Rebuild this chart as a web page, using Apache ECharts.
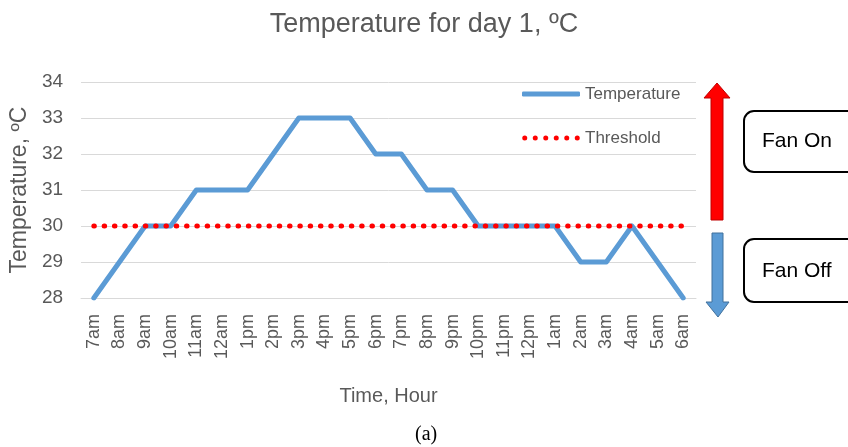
<!DOCTYPE html>
<html>
<head>
<meta charset="utf-8">
<script src="https://cdn.jsdelivr.net/npm/echarts@6/dist/echarts.min.js"></script>
<style>
  html, body { margin: 0; padding: 0; background: #fff; }
  #chart { width: 848px; height: 447px; }
</style>
</head>
<body>
<div id="chart"></div>
<script>
const hours = ['7am', '8am', '9am', '10am', '11am', '12am', '1pm', '2pm', '3pm', '4pm', '5pm', '6pm',
  '7pm', '8pm', '9pm', '10pm', '11pm', '12pm', '1am', '2am', '3am', '4am', '5am', '6am']
const temperature = [28, 29, 30, 30, 31, 31, 31, 32, 33, 33, 33, 32, 32, 31, 31, 30, 30, 30, 30, 29, 29, 30, 29, 28]
const threshold = [30, 30, 30, 30, 30, 30, 30, 30, 30, 30, 30, 30, 30, 30, 30, 30, 30, 30, 30, 30, 30, 30, 30, 30]
const yTicks = [28, 29, 30, 31, 32, 33, 34]

const font = 'Liberation Sans'
const grey = '#595959'

// six round dots for the threshold legend icon
let dotsPath = 'path://'
for (let i = 0; i < 6; i++) {
  const x = i * 10.5
  dotsPath += 'M' + x + ' 2.5a2.5 2.5 0 1 0 5 0a2.5 2.5 0 1 0 -5 0Z'
}

const chart = echarts.init(document.getElementById('chart'))
chart.setOption({
  animation: false,
  title: [
    {
      text: 'Temperature for day 1, ºC',
      left: 'center',
      top: 6,
      textStyle: { fontFamily: font, fontSize: 27, fontWeight: 'normal', color: grey }
    },
    {
      text: '(a)',
      left: 410,
      top: 420,
      textStyle: { fontFamily: 'Liberation Serif', fontSize: 20, fontWeight: 'normal', color: '#000' }
    }
  ],
  legend: {
    orient: 'vertical',
    left: 517,
    top: 80,
    itemWidth: 58,
    itemHeight: 5,
    itemGap: 26,
    textStyle: { fontFamily: font, fontSize: 17, lineHeight: 18, color: grey },
    data: [
      { name: 'Temperature', icon: 'roundRect' },
      { name: 'Threshold', icon: dotsPath }
    ]
  },
  grid: { left: 78, right: 152, top: 82, bottom: 149 },
  xAxis: {
    type: 'category',
    data: hours,
    boundaryGap: true,
    name: 'Time, Hour',
    nameLocation: 'middle',
    nameGap: 88,
    nameTextStyle: { fontFamily: font, fontSize: 20, color: grey },
    axisLine: { lineStyle: { color: '#D9D9D9', width: 1 } },
    axisTick: { show: false },
    axisLabel: { rotate: 90, margin: 16, interval: 0, fontFamily: font, fontSize: 18, color: grey }
  },
  yAxis: {
    type: 'value',
    min: yTicks[0],
    max: yTicks[yTicks.length - 1],
    interval: 1,
    name: 'Temperature, ºC',
    nameLocation: 'middle',
    nameGap: 43,
    nameTextStyle: { fontFamily: font, fontSize: 23, color: grey },
    axisLine: { show: false },
    axisTick: { show: false },
    splitLine: { lineStyle: { color: '#D9D9D9', width: 1 } },
    axisLabel: { margin: 18, fontFamily: font, fontSize: 19, color: grey }
  },
  series: [
    {
      name: 'Temperature',
      type: 'line',
      data: temperature,
      symbol: 'none',
      z: 2,
      lineStyle: { color: '#5B9BD5', width: 5, cap: 'round', join: 'round' },
      itemStyle: { color: '#5B9BD5' }
    },
    {
      name: 'Threshold',
      type: 'line',
      data: threshold,
      symbol: 'none',
      z: 3,
      lineStyle: { color: '#FF0000', width: 5, type: [0.5, 9.8], cap: 'round' },
      itemStyle: { color: '#FF0000' }
    }
  ],
  graphic: [
    {
      type: 'polygon',
      shape: { points: [[717, 83], [730, 98], [723, 98], [723, 220], [711, 220], [711, 98], [704, 98]] },
      style: { fill: '#FF0000', stroke: '#C00000', lineWidth: 1 }
    },
    {
      type: 'polygon',
      shape: { points: [[712, 233], [723, 233], [723, 302], [729, 302], [718, 317], [706, 302], [712, 302]] },
      style: { fill: '#5B9BD5', stroke: '#41719C', lineWidth: 1 }
    },
    {
      type: 'rect',
      shape: { x: 744, y: 111, width: 130, height: 61, r: 10 },
      style: { fill: '#fff', stroke: '#000', lineWidth: 2 }
    },
    {
      type: 'rect',
      shape: { x: 744, y: 239, width: 130, height: 63, r: 10 },
      style: { fill: '#fff', stroke: '#000', lineWidth: 2 }
    },
    {
      type: 'text',
      left: 762,
      top: 131,
      style: { text: 'Fan On', fontFamily: font, fontSize: 21, fill: '#000' }
    },
    {
      type: 'text',
      left: 762,
      top: 261,
      style: { text: 'Fan Off', fontFamily: font, fontSize: 21, fill: '#000' }
    }
  ]
})
</script>
</body>
</html>
